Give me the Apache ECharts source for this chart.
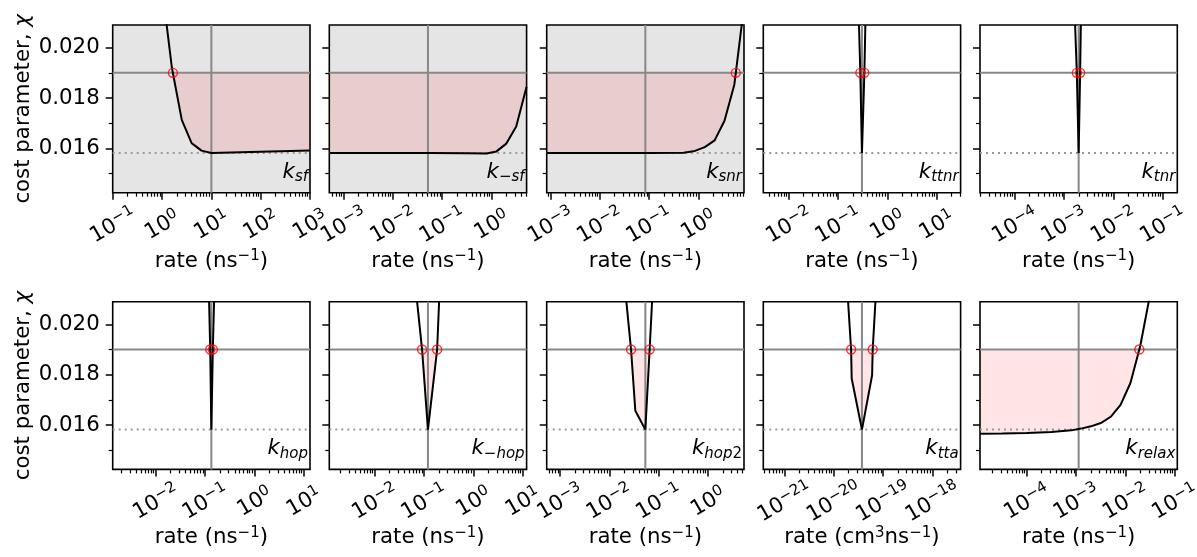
<!DOCTYPE html>
<html><head><meta charset="utf-8">
<script src="https://cdn.jsdelivr.net/npm/echarts@6/dist/echarts.min.js"></script>
<style>html,body{margin:0;padding:0;background:#fff}#c{width:1197px;height:557px}</style>
</head><body><div id="c"></div>
<script>
// ---------------- data ----------------
const panelSubs = ['sf', '−sf', 'snr', 'ttnr', 'tnr', 'hop', '−hop', 'hop2', 'tta', 'relax'];
const bestRate = [10, 0.0513, 0.0841, 0.3055, 0.001972, 0.1334, 0.1197, 0.0537, 3.741e-20, 0.001122];
const grayPanel = [true, true, true, false, false, false, false, false, false, false];
const unitLabels = ['ns', 'ns', 'ns', 'ns', 'ns', 'ns', 'ns', 'ns', 'cm3ns', 'ns'];
const tickExps = [[-1,0,1,2,3],[-3,-2,-1,0],[-3,-2,-1,0],[-2,-1,0,1],[-4,-3,-2,-1],
                  [-2,-1,0,1],[-2,-1,0,1],[-3,-2,-1,0],[-21,-20,-19,-18],[-4,-3,-2,-1]];
const yTicks = [0.016, 0.018, 0.020];
const yMinorTicks = [0.015, 0.017, 0.019];
const chiThreshold = 0.019;
const chiMin = 0.01582;
const yMin = 0.01424, yMax = 0.0209;

const rates_sf = [1, 1.585, 2.512, 3.981, 6.31, 10, 25.12, 63.1, 158.5, 398.1, 1000];
const chi_sf   = [0.0224, 0.0192, 0.01713, 0.01621, 0.01591, 0.01582, 0.01584, 0.01586, 0.01588, 0.0159, 0.01592];
const cross_sf = [1.66];

const rates_msf = [5.13e-4, 5.13e-3, 0.0513, 0.316, 0.794, 1.259, 1.995, 3.162, 5.129];
const chi_msf   = [0.01582, 0.01582, 0.01582, 0.01581, 0.0158, 0.01588, 0.01619, 0.01687, 0.01845];
const cross_msf = [];

const rates_snr = [8.41e-4, 0.01, 0.1, 0.501, 0.851, 1.349, 2.138, 3.388, 5.37, 8.511];
const chi_snr   = [0.01582, 0.01582, 0.01582, 0.01583, 0.0159, 0.01605, 0.01632, 0.0171, 0.01854, 0.02172];
const cross_snr = [5.74];

const rates_ttnr = [0.2661, 0.2831, 0.3055, 0.342, 0.3581];
const chi_ttnr   = [0.0209, 0.019, 0.01582, 0.019, 0.0209];
const cross_ttnr = [0.2831, 0.342];

const rates_tnr = [1.671e-3, 1.811e-3, 1.972e-3, 2.113e-3, 2.183e-3];
const chi_tnr   = [0.0209, 0.019, 0.01582, 0.019, 0.0209];
const cross_tnr = [1.811e-3, 2.113e-3];

const rates_hop = [0.1202, 0.1265, 0.1334, 0.1429, 0.1514];
const chi_hop   = [0.0209, 0.019, 0.01582, 0.019, 0.0209];
const cross_hop = [0.1265, 0.1429];

const rates_mhop = [0.07211, 0.09099, 0.1197, 0.1837, 0.2014];
const chi_mhop   = [0.0209, 0.019, 0.01582, 0.019, 0.0209];
const cross_mhop = [0.09099, 0.1837];

const rates_hop2 = [0.02213, 0.02754, 0.03365, 0.0537, 0.06561, 0.07345];
const chi_hop2   = [0.0209, 0.019, 0.01657, 0.01582, 0.019, 0.0209];
const cross_hop2 = [0.02754, 0.06561];

const rates_tta = [1.959e-20, 2.254e-20, 2.317e-20, 3.741e-20, 6.012e-20, 6.18e-20, 7.015e-20];
const chi_tta   = [0.0209, 0.019, 0.01785, 0.01582, 0.01798, 0.019, 0.0209];
const cross_tta = [2.254e-20, 6.18e-20];

const rates_relax = [1.122e-5, 3.162e-5, 1e-4, 3.162e-4, 7.943e-4, 1.259e-3, 1.995e-3, 3.162e-3, 5.012e-3, 7.943e-3, 0.01259, 0.01995, 0.03162];
const chi_relax   = [0.01566, 0.01567, 0.01569, 0.01573, 0.01579, 0.01586, 0.01595, 0.01608, 0.01633, 0.0168, 0.01767, 0.01915, 0.0212];
const cross_relax = [0.01905];

const allRates = [rates_sf, rates_msf, rates_snr, rates_ttnr, rates_tnr, rates_hop, rates_mhop, rates_hop2, rates_tta, rates_relax];
const allChi   = [chi_sf, chi_msf, chi_snr, chi_ttnr, chi_tnr, chi_hop, chi_mhop, chi_hop2, chi_tta, chi_relax];
const allCross = [cross_sf, cross_msf, cross_snr, cross_ttnr, cross_tnr, cross_hop, cross_mhop, cross_hop2, cross_tta, cross_relax];

// ---------------- layout / style ----------------
const W = 1197, H = 557;
const FONT = 'DejaVu Sans';
const FS = 21.3, SFS = 15;
const colLeft = [112.7, 329.3, 546.7, 763.3, 980];
const rowTop = [25, 301.7];
const gw = 197.3, gh = 167.7;

function supStr(n) { return n < 0 ? '−' + (-n) : String(n); }
const tickRich = {
  b: {fontSize: FS, lineHeight: 23, verticalAlign: 'bottom', fontFamily: FONT, color: '#000'},
  s: {fontSize: SFS, lineHeight: 11, verticalAlign: 'top', fontFamily: FONT, color: '#000'}
};
function unitName(u) {
  if (u === 'cm3ns') return '{b|rate (cm}{s|3}{b|ns}{s|−1}{b|)}';
  return '{b|rate (ns}{s|−1}{b|)}';
}
function labelText(sub) {
  let s = '{k|k}';
  let core = sub, pre = '', post = '';
  if (core[0] === '−') { pre = '−'; core = core.slice(1); }
  const m = core.match(/^(.*?)(\d+)$/);
  if (m) { core = m[1]; post = m[2]; }
  if (pre) s += '{u|' + pre + '}';
  s += '{s|' + core + '}';
  if (post) s += '{u|' + post + '}';
  return s;
}
function fillPolygon(rates, chi, cross) {
  const T = chiThreshold, pts = [], n = rates.length;
  for (let j = 0; j < n; j++) {
    if (j > 0) {
      const a = chi[j-1], b = chi[j];
      if ((a > T && b < T) || (a < T && b > T)) {
        const lo = Math.min(rates[j-1], rates[j]), hi = Math.max(rates[j-1], rates[j]);
        const c = cross.find(r => r >= lo && r <= hi);
        if (c !== undefined) pts.push([c, T]);
      }
    }
    if (chi[j] <= T) pts.push([rates[j], chi[j]]);
  }
  if (!pts.length) return pts;
  if (chi[0] < T) pts.unshift([rates[0], T]);
  if (chi[n-1] < T) pts.push([rates[n-1], T]);
  return pts;
}

const grids = [], xAxes = [], yAxes = [], series = [], titles = [];
for (let i = 0; i < 10; i++) {
  const row = Math.floor(i / 5), col = i % 5;
  const left = colLeft[col], top = rowTop[row];
  grids.push({left: left, top: top, width: gw, height: gh, show: true,
    backgroundColor: grayPanel[i] ? '#e5e5e5' : '#ffffff',
    borderColor: '#000', borderWidth: 1.6, containLabel: false, outerBoundsMode: 'none'});
  const xmin = bestRate[i] / 100 / 1.0005, xmax = bestRate[i] * 100 * 1.0005;
  const major = tickExps[i].map(e => Math.pow(10, e));
  const minor = [];
  for (let e = Math.floor(Math.log10(xmin)); e <= Math.ceil(Math.log10(xmax)); e++) {
    for (let k = 2; k <= 9; k++) { const v = k * Math.pow(10, e); if (v >= xmin && v <= xmax) minor.push(v); }
  }
  xAxes.push({type: 'log', logBase: 10, gridIndex: i, position: 'bottom', min: xmin, max: xmax,
    axisLine: {show: false}, splitLine: {show: false}, minorTick: {show: false},
    axisTick: {show: true, inside: false, length: 7, customValues: major, lineStyle: {color: '#000', width: 1.5}},
    axisLabel: {show: true, customValues: major, rotate: 30, align: 'center', verticalAlign: 'middle', margin: 32,
      showMinLabel: true, showMaxLabel: true, color: '#000', fontFamily: FONT, fontSize: FS, rich: tickRich,
      formatter: v => '{b|10}{s|' + supStr(Math.round(Math.log10(v))) + '}'},
    name: unitName(unitLabels[i]), nameLocation: 'middle', nameGap: 56, nameMoveOverlap: false,
    nameTextStyle: {color: '#000', fontFamily: FONT, fontSize: FS, rich: tickRich}});
  xAxes.push({type: 'log', logBase: 10, gridIndex: i, position: 'bottom', min: xmin, max: xmax,
    axisLine: {show: false}, splitLine: {show: false}, axisLabel: {show: false},
    axisTick: {show: true, inside: false, length: 4, customValues: minor, lineStyle: {color: '#000', width: 1.2}}});
  yAxes.push({type: 'value', gridIndex: i, position: 'left', min: yMin, max: yMax,
    axisLine: {show: false}, splitLine: {show: false},
    axisTick: {show: true, inside: false, length: 7, customValues: yTicks, lineStyle: {color: '#000', width: 1.5}},
    axisLabel: {show: col === 0, customValues: yTicks, margin: 13, color: '#000', fontFamily: FONT, fontSize: FS,
      formatter: v => v.toFixed(3)},
    name: col === 0 ? '{n|cost parameter, }{c|χ}' : '', nameLocation: 'middle', nameGap: 79, nameMoveOverlap: false,
    nameTextStyle: {color: '#000', fontFamily: FONT, fontSize: FS, rich: {
      n: {fontSize: FS, fontFamily: FONT, color: '#000'},
      c: {fontSize: FS, fontFamily: FONT, fontStyle: 'italic', color: '#000'}}}});
  yAxes.push({type: 'value', gridIndex: i, position: 'left', min: yMin, max: yMax,
    axisLine: {show: false}, splitLine: {show: false}, axisLabel: {show: false},
    axisTick: {show: true, inside: false, length: 4, customValues: yMinorTicks, lineStyle: {color: '#000', width: 1.2}}});

  const xi = 2 * i, yi = 2 * i;
  const refBase = {type: 'line', xAxisIndex: xi, yAxisIndex: yi, showSymbol: false, silent: true, z: 2, clip: true};
  series.push(Object.assign({}, refBase, {data: [[xmin, chiThreshold], [xmax, chiThreshold]],
    lineStyle: {color: '#888888', width: 2}}));
  series.push(Object.assign({}, refBase, {data: [[bestRate[i], yMin], [bestRate[i], yMax]],
    lineStyle: {color: '#888888', width: 2}}));
  series.push(Object.assign({}, refBase, {data: [[xmin, chiMin], [xmax, chiMin]],
    lineStyle: {color: '#999999', width: 2, type: [2, 4]}}));
  series.push({type: 'line', xAxisIndex: xi, yAxisIndex: yi, z: 3, silent: true, clip: true,
    data: allRates[i].map((r, j) => [r, allChi[i][j]]), showSymbol: false,
    lineStyle: {color: '#000', width: 2}});
  if (allCross[i].length) {
    series.push({type: 'scatter', xAxisIndex: xi, yAxisIndex: yi, z: 4, silent: true,
      data: allCross[i].map(r => [r, chiThreshold]), symbol: 'circle', symbolSize: 9,
      itemStyle: {color: 'rgba(0,0,0,0)', borderColor: '#ff0000', borderWidth: 1.4}});
  }
  titles.push({text: labelText(panelSubs[i]), right: W - (left + gw) + 2, top: top + gh - 31, padding: 0,
    textStyle: {fontWeight: 'normal', rich: {
      k: {fontSize: FS, fontStyle: 'italic', fontFamily: FONT, lineHeight: 23, verticalAlign: 'top', color: '#000', fontWeight: 'normal'},
      s: {fontSize: SFS, fontStyle: 'italic', fontFamily: FONT, lineHeight: 12, verticalAlign: 'bottom', color: '#000', fontWeight: 'normal'},
      u: {fontSize: SFS, fontStyle: 'normal', fontFamily: FONT, lineHeight: 12, verticalAlign: 'bottom', color: '#000', fontWeight: 'normal'}
    }}});
}

const chart = echarts.init(document.getElementById('c'), null, {renderer: 'canvas', width: W, height: H});
chart.setOption({
  animation: false,
  backgroundColor: '#ffffff',
  textStyle: {fontFamily: FONT},
  title: titles, grid: grids, xAxis: xAxes, yAxis: yAxes, series: series
});
// shaded acceptable region, placed through the axes' own scales
const polys = [];
for (let i = 0; i < 10; i++) {
  const poly = fillPolygon(allRates[i], allChi[i], allCross[i]);
  if (poly.length < 3) continue;
  const pts = poly.map(p => chart.convertToPixel({xAxisIndex: 2 * i, yAxisIndex: 2 * i}, p));
  polys.push({type: 'polygon', z: 1, silent: true, shape: {points: pts}, style: {fill: 'rgba(255,0,0,0.1)'}});
}
chart.setOption({graphic: {elements: polys}});
</script></body></html>
